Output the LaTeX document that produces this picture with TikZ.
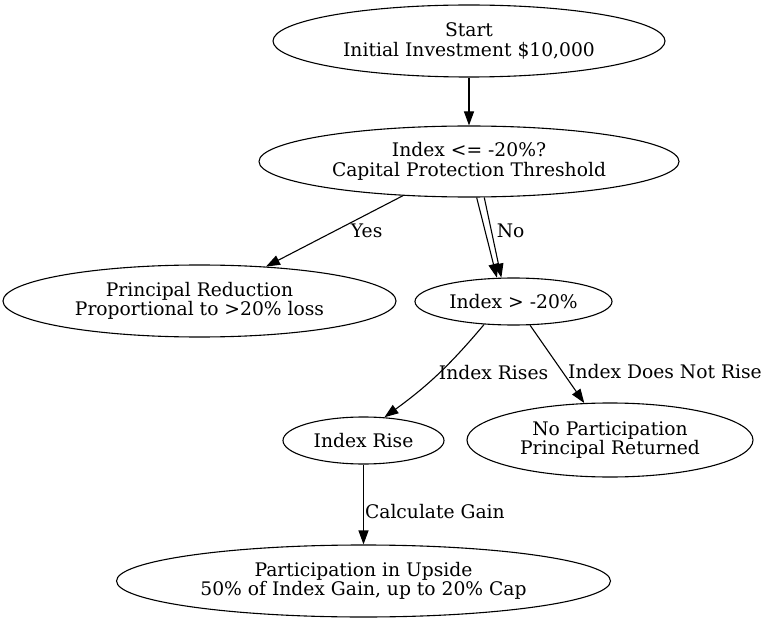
\documentclass[tikz,border=0pt]{standalone}
\usepackage{fontspec}
\setmainfont{DejaVu Serif}
\usetikzlibrary{shapes.geometric,arrows.meta}
\begin{document}
\begin{tikzpicture}[x=1pt,y=1pt,
  every node/.style={font=\fontsize{18.7}{19.5}\selectfont},
  box/.style={ellipse, draw, inner sep=0pt, align=center, line width=1.1pt},
  edge/.style={line width=1.1pt, -{Triangle[length=14pt,width=10pt]}},
  lab/.style={inner sep=0pt, anchor=west}
]
\useasboundingbox (0,0) rectangle (768,622);
\node[box, minimum width=392, minimum height=72] (start) at (469,581) {Start\\Initial Investment \$10,000};
\node[box, minimum width=420, minimum height=71] (q) at (469,460.5) {Index <= -20\%?\\Capital Protection Threshold};
\node[box, minimum width=393, minimum height=72] (pr) at (199.5,321) {Principal Reduction\\Proportional to >20\% loss};
\node[box, minimum width=197, minimum height=47] (ig) at (513.5,320.5) {Index > -20\%};
\node[box, minimum width=161, minimum height=47] (ir) at (363.5,181.5) {Index Rise};
\node[box, minimum width=286, minimum height=74] (np) at (610,182) {No Participation\\Principal Returned};
\node[box, minimum width=494, minimum height=72] (pu) at (363.5,41) {Participation in Upside\\50\% of Index Gain, up to 20\% Cap};

\draw[edge] (start) -- (q);
\draw[edge] (q) -- node[lab, pos=0.5, xshift=16] {Yes} (pr);
\draw[edge] (q.-78) -- (ig.125);
\draw[edge] (q.-67) -- node[lab, pos=0.41, xshift=5] {No} (ig.117);
\draw[edge] (ig.218.5) to[bend left=7] node[lab, pos=0.48, xshift=-1] {Index Rises} (ir.48);
\draw[edge] (ig) -- node[lab, pos=0.6, xshift=5] {Index Does Not Rise} (np);
\draw[edge] (ir) -- node[lab, pos=0.59, xshift=1] {Calculate Gain} (pu);
\end{tikzpicture}
\end{document}
